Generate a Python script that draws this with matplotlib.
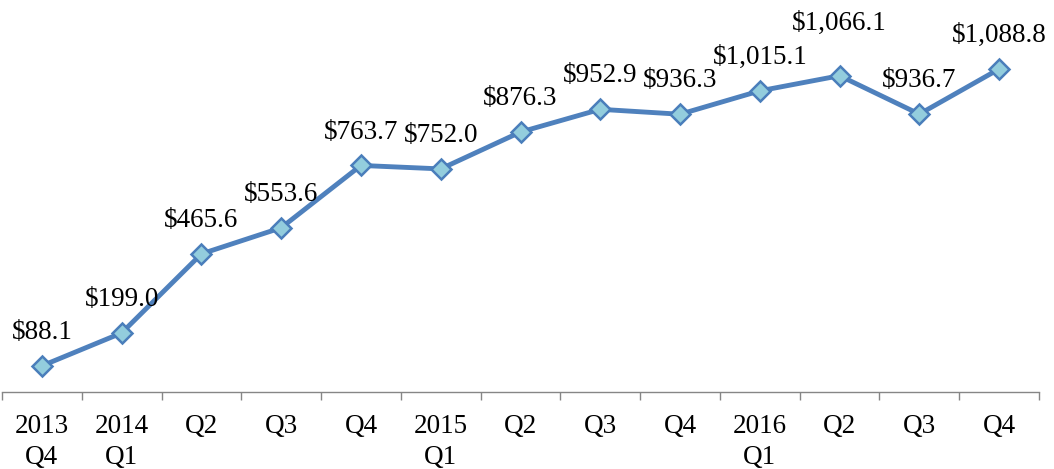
import numpy as np
import matplotlib.pyplot as plt
from matplotlib.ticker import FixedLocator

# data (quarterly values, $)
quarters = ['2013\nQ4', '2014\nQ1', 'Q2', 'Q3', 'Q4', '2015\nQ1', 'Q2', 'Q3', 'Q4',
            '2016\nQ1', 'Q2', 'Q3', 'Q4']
values = [88.1, 199.0, 465.6, 553.6, 763.7, 752.0, 876.3, 952.9, 936.3,
          1015.1, 1066.1, 936.7, 1088.8]

plt.rcParams['font.family'] = ['Liberation Serif', 'DejaVu Serif']

fig = plt.figure(figsize=(10.54, 4.69), dpi=100)
ax = fig.add_axes([2 / 1054, 77 / 469, 1037 / 1054, 356 / 469])

x = np.arange(len(values))
ax.plot(x, values, color='#4F81BD', lw=3.5, marker='D', ms=10.5,
        mfc='#93CDDD', mec='#4A7EBB', mew=1.8, clip_on=False, zorder=3)

# data labels above points (one nudged higher as in the original)
extra = {10: 14}
for i, v in enumerate(values):
    ax.annotate('${:,.1f}'.format(v), (x[i], v), xytext=(0, 24 + extra.get(i, 0)),
                textcoords='offset points', ha='center', va='center',
                fontsize=19.5, color='black', annotation_clip=False)

ax.set_xlim(-0.5, len(values) - 0.5)
ax.set_ylim(0, 1200)
ax.set_xticks(x)
ax.set_xticklabels(quarters, fontsize=19.5, linespacing=1.3)
ax.xaxis.set_minor_locator(FixedLocator(np.arange(-0.5, len(values), 1)))
ax.tick_params(axis='x', which='major', length=0, pad=16)
ax.tick_params(axis='x', which='minor', length=6, width=1, color='#868686')
ax.set_yticks([])
for s in ['left', 'right', 'top']:
    ax.spines[s].set_visible(False)
ax.spines['bottom'].set_color('#868686')
ax.spines['bottom'].set_linewidth(1)

fig.savefig('out.png', dpi=100)
